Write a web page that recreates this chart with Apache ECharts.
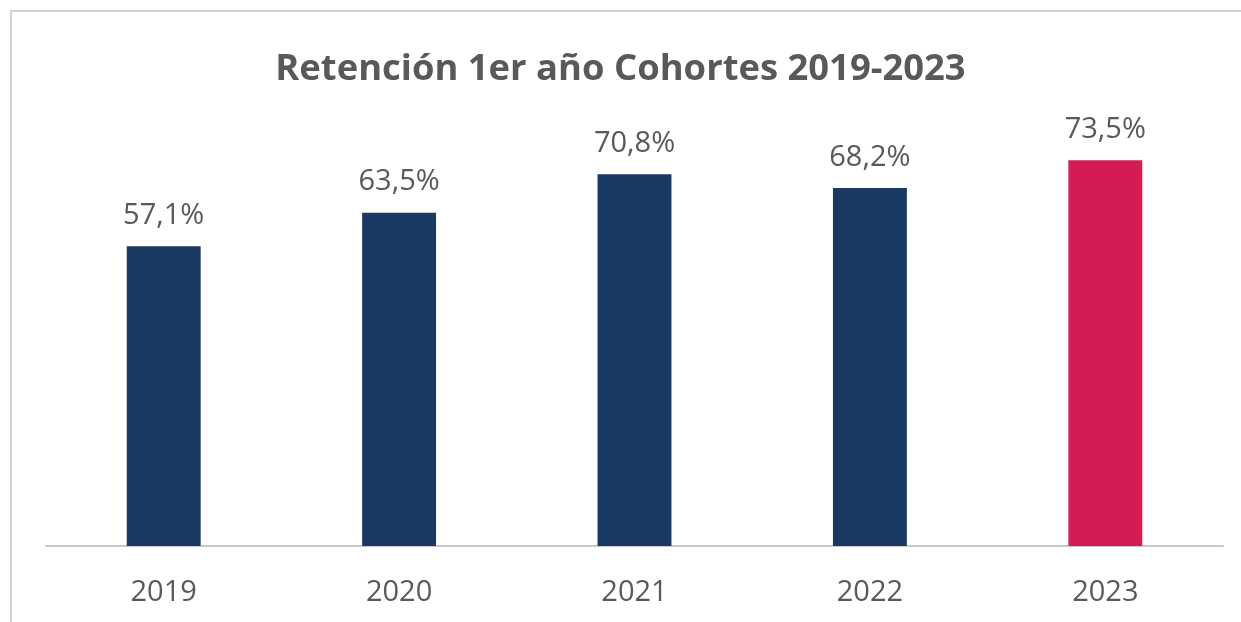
<!DOCTYPE html>
<html>
<head>
<meta charset="utf-8">
<script src="https://cdn.jsdelivr.net/npm/echarts@6/dist/echarts.min.js"></script>
<style>
  html, body { margin: 0; padding: 0; background: #fff; }
  #chart { width: 1241px; height: 622px; }
</style>
</head>
<body>
<div id="chart"></div>
<script>
// datos
const years = ["2019", "2020", "2021", "2022", "2023"]
const retention = [57.1, 63.5, 70.8, 68.2, 73.5]
const barColors = ["#1a3a64", "#1a3a64", "#1a3a64", "#1a3a64", "#d41c54"]

const chart = echarts.init(document.getElementById("chart"))

const options = {
  animation: false,
  backgroundColor: "#fff",
  title: {
    text: "Retención 1er año Cohortes 2019-2023",
    left: "center",
    top: 47,
    textStyle: {
      fontFamily: "Open Sans",
      fontWeight: "bold",
      fontSize: 36.4,
      color: "#595959"
    }
  },
  graphic: [
    {
      type: "rect",
      shape: { x: 11, y: 11, width: 1300, height: 700 },
      style: { fill: "none", stroke: "#d4d4d4", lineWidth: 2 }
    }
  ],
  grid: {
    left: 46,
    right: 18,
    top: 126,
    bottom: 76
  },
  xAxis: {
    type: "category",
    data: years,
    axisLine: { lineStyle: { color: "#c8c8c8", width: 2 } },
    axisTick: { show: false },
    axisLabel: {
      margin: 32,
      fontFamily: "Open Sans",
      fontSize: 29,
      color: "#595959"
    }
  },
  yAxis: {
    type: "value",
    min: 0,
    max: 80,
    show: false,
    splitLine: { show: false }
  },
  series: [
    {
      type: "bar",
      barWidth: "31.4%",
      data: retention.map((v, i) => ({
        value: v,
        itemStyle: { color: barColors[i] }
      })),
      label: {
        show: true,
        position: "top",
        distance: 16,
        fontFamily: "Open Sans",
        fontSize: 29,
        color: "#595959",
        formatter: (p) => p.value.toFixed(1).replace(".", ",") + "%"
      }
    }
  ]
}

chart.setOption(options)
</script>
</body>
</html>
